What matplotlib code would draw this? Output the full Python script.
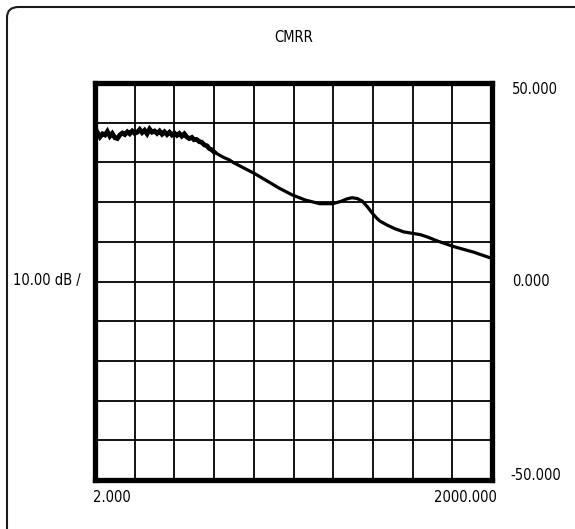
import matplotlib
matplotlib.use("Agg")
import matplotlib.pyplot as plt
from matplotlib import font_manager
from matplotlib.font_manager import FontProperties
from matplotlib.patches import FancyBboxPatch

# ---------------- data ----------------
title = "CMRR"
scale_label = "10.00 dB /"
x_start_label = "2.000"
x_stop_label = "2000.000"
y_labels = ["50.000", "0.000", "-50.000"]

f_start, f_stop = 2.0, 2000.0          # MHz
y_top, y_bottom = 50.0, -50.0           # dB
n_div = 10

freq_mhz = [
    2.00, 2.09, 2.18, 2.28, 2.38, 2.48, 2.59, 2.70, 2.83, 2.95,
    3.08, 3.22, 3.36, 3.51, 3.66, 3.82, 3.99, 4.17, 4.35, 4.54,
    4.74, 4.95, 5.17, 5.40, 5.64, 5.89, 6.15, 6.42, 6.70, 7.00,
    7.31, 7.63, 7.96, 8.32, 8.68, 9.06, 9.46, 9.88, 10.3, 10.8,
    11.2, 11.7, 12.3, 12.8, 13.4, 14.0, 14.6, 15.2, 15.9,
    17.1, 18.9, 20.5, 22.4, 26.6, 31.7, 39.6, 49.4, 61.9, 78.0,
    99.9, 125, 145, 160, 175, 192, 210, 229, 252, 270, 285, 323, 369,
    430, 508, 575, 651, 774, 1026, 1451, 2000,
]
cmrr_db = [
    36.8, 37.5, 36.4, 37.2, 36.9, 37.8, 36.6, 37.3, 36.2, 36.0,
    36.9, 37.4, 37.0, 37.7, 37.2, 37.9, 37.3, 37.6, 38.3, 37.5,
    38.1, 37.2, 38.4, 37.6, 37.9, 37.3, 37.9, 37.1, 37.7, 37.0,
    37.6, 36.9, 37.4, 36.8, 37.3, 36.6, 37.2, 36.4, 36.0, 36.3,
    35.7, 35.8, 35.2, 35.1, 34.4, 34.2, 33.5, 33.2, 32.6,
    32.0, 31.2, 30.7, 29.9, 28.6, 27.3, 25.4, 23.5, 21.8, 20.5,
    19.6, 19.6, 20.2, 20.8, 21.1, 20.9, 20.2, 18.8, 17.0, 15.9, 15.2, 14.2, 13.3,
    12.5, 12.1, 11.8, 11.2, 10.2, 8.8, 7.4, 5.8,
]
noisy_points = 49   # the first points of the sweep carry visible trace noise

# ---------------- font ----------------
available = {f.name for f in font_manager.fontManager.ttflist}
cond_path = font_manager.findfont(FontProperties(family="DejaVu Sans", stretch="condensed"))
if "Liberation Sans Narrow" in available:
    font_kw = dict(family=["Liberation Sans Narrow", "DejaVu Sans"])
    fs = 11
elif "Condensed" in cond_path:
    font_kw = dict(family=["DejaVu Sans"], fontstretch="condensed")
    fs = 10.5
else:
    font_kw = dict(family=["Liberation Sans", "DejaVu Sans"])
    fs = 10

W, H = 575, 529
fig = plt.figure(figsize=(W / 100, H / 100), dpi=100)

def fx(px):
    return px / W

def fy(py):
    return 1 - py / H

# outer rounded frame (extends past right/bottom edges)
frame = FancyBboxPatch((fx(7), fy(540)), fx(590) - fx(7), fy(7) - fy(540),
                       boxstyle="round,pad=0,rounding_size=0.02",
                       transform=fig.transFigure, fill=False,
                       edgecolor="#1a1a1a", linewidth=1.5)
fig.add_artist(frame)

left, right, top, bottom = 95, 492, 83, 480
ax = fig.add_axes([fx(left), fy(bottom), fx(right) - fx(left), fy(top) - fy(bottom)])
ax.set_xscale("log")
ax.set_xlim(f_start, f_stop)
ax.set_ylim(y_bottom, y_top)

ratio = f_stop / f_start
ax.set_xticks([f_start * ratio ** (k / n_div) for k in range(n_div + 1)])
ax.set_yticks([y_bottom + (y_top - y_bottom) * k / n_div for k in range(n_div + 1)])
ax.minorticks_off()
ax.tick_params(which="both", length=0, labelbottom=False, labelleft=False)
ax.grid(True, color="black", linewidth=1.3)
ax.set_axisbelow(True)
for s in ax.spines.values():
    s.set_linewidth(3.8)
    s.set_color("black")

ax.plot(freq_mhz, cmrr_db, color="black", linewidth=2.3,
        solid_joinstyle="round", zorder=3)
ax.plot(freq_mhz[:noisy_points], cmrr_db[:noisy_points], color="black",
        linewidth=3.4, solid_joinstyle="miter", zorder=3)

fig.text(fx(294), fy(37), title, ha="center", va="center", fontsize=fs, **font_kw)
fig.text(fx(13), fy(280), scale_label, ha="left", va="center", fontsize=fs, **font_kw)
fig.text(fx(512), fy(89), y_labels[0], ha="left", va="center", fontsize=fs, **font_kw)
fig.text(fx(512), fy(282), y_labels[1], ha="left", va="center", fontsize=fs, **font_kw)
fig.text(fx(510), fy(476), y_labels[2], ha="left", va="center", fontsize=fs, **font_kw)
fig.text(fx(93), fy(498), x_start_label, ha="left", va="center", fontsize=fs, **font_kw)
fig.text(fx(497), fy(498), x_stop_label, ha="right", va="center", fontsize=fs, **font_kw)

fig.savefig("out.png", dpi=100)
